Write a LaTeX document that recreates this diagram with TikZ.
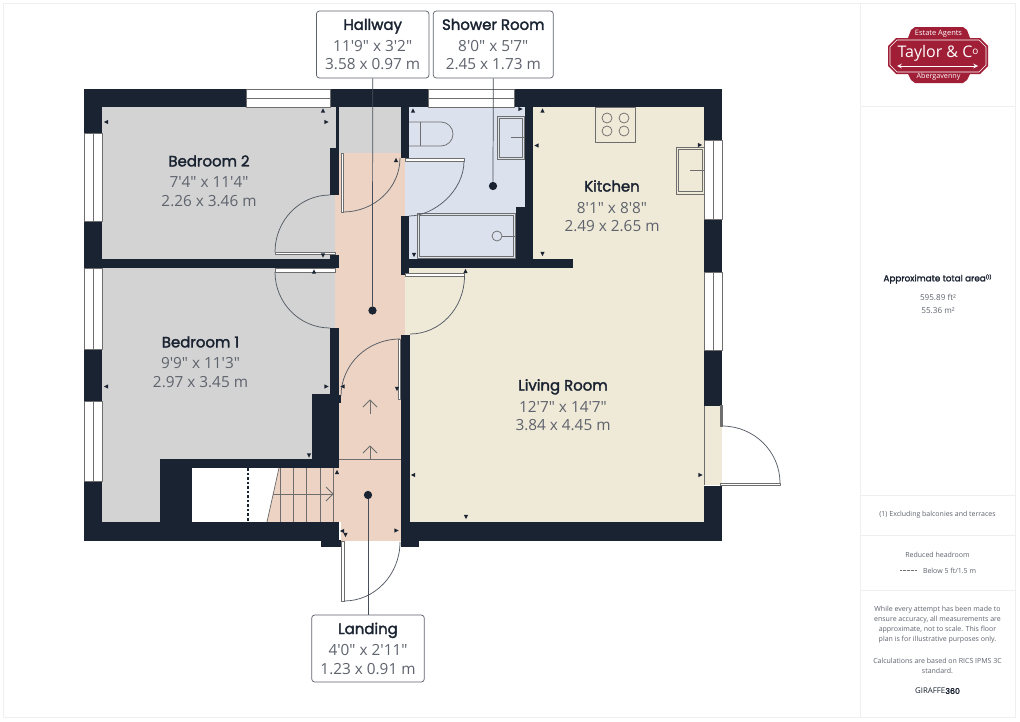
\documentclass[tikz,border=0pt]{standalone}
\usepackage{fontspec}
\usetikzlibrary{positioning}
\newfontfamily\titlefont[FakeBold=2]{Poppins}
\newfontfamily\dimfont{Open Sans}
\newfontfamily\noticefont{Open Sans}
\definecolor{wallcol}{HTML}{1A2331}
\definecolor{greycol}{HTML}{D3D3D3}
\definecolor{peachcol}{HTML}{ECD3C3}
\definecolor{bluecol}{HTML}{DCE1EE}
\definecolor{creamcol}{HTML}{EFE9D7}
\definecolor{dimcol}{HTML}{5E636D}
\definecolor{fixcol}{HTML}{6E6E6E}
\definecolor{framecol}{HTML}{EFEFEF}
\definecolor{logocol}{HTML}{A01F37}
\newcommand{\roomtext}[3]{{\titlefont\color{wallcol}\fontsize{11.2}{14.6}\selectfont #1}\\[2.25pt]{\dimfont #2}\\{\dimfont #3}}
\tikzset{
  wall/.style={fill=wallcol},
  winline/.style={draw=fixcol,line width=0.5pt},
  fixture/.style={draw=fixcol,line width=0.55pt},
  swing/.style={draw=wallcol!75,line width=0.55pt},
  roomlabel/.style={text=dimcol,align=center,inner sep=0pt,font=\fontsize{11.5}{13.9}\selectfont},
  callout/.style={roomlabel,draw=dimcol,fill=white,rounded corners=2.2pt,line width=0.55pt,minimum height=50.2pt},
  spot/.style={circle,fill=wallcol,inner sep=0pt,minimum size=6.2pt},
  leader/.style={draw=wallcol!80,line width=0.55pt},
  notice/.style={text=dimcol,align=center,inner sep=0pt,font=\noticefont\fontsize{5.25}{7.5}\selectfont},
  logotext/.style={text=white,inner sep=0pt,font=\noticefont}
}
\begin{document}
\begin{tikzpicture}[line cap=butt,line join=round,x=0.75pt,y=-0.75pt]
\useasboundingbox (0,0) rectangle (1020,721);
\fill[white] (0,0) rectangle (1020,721);
\draw[framecol,line width=0.75pt] (3.5,3.5) rectangle (1015.5,717);
\draw[framecol,line width=0.75pt] (860.5,3.5)-- (860.5,717);
\foreach \y in {106.5,495.5,535.5,590.5}
  \draw[framecol,line width=0.75pt] (860.5,\y)-- (1015.5,\y);
\fill[greycol] (102,107) rectangle (336,259);
\fill[greycol] (339,107) rectangle (401,153);
\fill[greycol] (102,268)-- (335,268)-- (335,328)-- (330,328)-- (330,394)-- (312,394)-- (312,459)-- (160,459)-- (160,522)-- (102,522)-- cycle;
\fill[peachcol] (335,195) rectangle (339,328);
\fill[peachcol] (339,153) rectangle (405,335);
\fill[peachcol] (339,335) rectangle (401,522);
\fill[peachcol] (341,522) rectangle (401,541);
\fill[peachcol] (279,468)-- (267,522)-- (339,522)-- (339,468)-- cycle;
\draw[fixture] (279,468)-- (267,522);
\fill[bluecol] (409,107)-- (525,107)-- (525,207)-- (516,207)-- (516,259)-- (409,259)-- (409,216)-- (405,216)-- (405,158)-- (409,158)-- cycle;
\fill[creamcol] (533,107)-- (704,107)-- (704,522)-- (410,522)-- (410,335)-- (405,335)-- (405,275)-- (409,275)-- (409,268)-- (533,268)-- cycle;
\fill[creamcol] (704,405) rectangle (722,485);
\draw[fixture] (704,405)-- (704,485);
\foreach \x in {280,293,306,320,333}
  \draw[fixture] (\x,468)-- (\x,522);
\draw[fixture] (273,494)-- (333,494);
\draw[fixture] (326,487)-- (333,494)-- (326,501);
\draw[fixture] (339,459)-- (401,459);
\draw[fixture] (370,459)-- (370,446);
\draw[fixture] (363,453)-- (370,446)-- (377,453);
\draw[fixture] (370,414)-- (370,400);
\draw[fixture] (363,407)-- (370,400)-- (377,407);
\draw[wallcol,line width=0.9pt,dash pattern=on 2pt off 1.4pt] (248,468)-- (248,522);
\draw[fixture] (409,122)-- (441,122) .. controls (447.6,122) and (453,127.4) .. (453,134) .. controls (453,140.6) and (447.6,146) .. (441,146)-- (409,146);
\draw[fixture] (420,122)-- (420,146);
\draw[fixture] (497,116) rectangle (524,159.5);
\draw[fixture] (499,118) rectangle (522,157.5);
\draw[fixture] (511,137)-- (524,137);
\draw[fixture] (417,213) rectangle (515,258);
\draw[fixture] (419,215) rectangle (513,256);
\draw[fixture] (497,236) circle (5);
\draw[fixture] (502,236)-- (515,236);
\draw[fixture] (595,107) rectangle (635,142);
\foreach \x/\y in {607/118,624/118,607/131,624/131}
  \draw[fixture] (\x,\y) circle (5);
\draw[fixture] (676,147) rectangle (704,194);
\draw[fixture] (678,149) rectangle (702,191);
\draw[fixture] (690,170)-- (704,170);
\fill[wall] (84,89) rectangle (246,107);
\fill[wall] (330,89) rectangle (428,107);
\fill[wall] (514,89) rectangle (722,107);
\fill[wall] (84,107) rectangle (102,133);
\fill[wall] (84,221) rectangle (102,268);
\fill[wall] (84,349) rectangle (102,401);
\fill[wall] (84,481) rectangle (102,540.5);
\fill[wall] (84,522) rectangle (339,540.5);
\fill[wall] (321,540) rectangle (341,546.5);
\fill[wall] (401,522) rectangle (722,540.5);
\fill[wall] (401,540) rectangle (419,546.5);
\fill[wall] (704,107) rectangle (722,140);
\fill[wall] (704,219) rectangle (722,272.5);
\fill[wall] (704,350) rectangle (722,405.5);
\fill[wall] (704,485.5) rectangle (722,540.5);
\fill[wall] (102,259) rectangle (339,268);
\fill[wall] (330,255) rectangle (339,268);
\fill[wall] (336,107) rectangle (339,148);
\fill[wall] (330,148) rectangle (339,195);
\fill[wall] (330,328) rectangle (339,395);
\fill[wall] (339,395) rectangle (341,403);
\fill[wall] (312,394) rectangle (339,468);
\fill[wall] (160,459) rectangle (339,468);
\fill[wall] (160,459) rectangle (192,522);
\fill[wall] (401,107) rectangle (409,158);
\fill[wall] (401,216) rectangle (409,275);
\fill[wall] (401,259) rectangle (573,268);
\fill[wall] (525,107) rectangle (533,268);
\fill[wall] (516,207) rectangle (533,262);
\fill[wall] (401,335) rectangle (410,540);
\foreach \a/\b in {133/221,268/349,401/481} {
  \draw[winline] (84,\a) rectangle (102,\b);
  \draw[winline] (93.5,\a)-- (93.5,\b);
}
\foreach \a/\b in {140/219,272.5/350} {
  \draw[winline] (704,\a) rectangle (722,\b);
  \draw[winline] (713,\a)-- (713,\b);
}
\foreach \a/\b in {246/330,428/514} {
  \draw[winline] (\a,89) rectangle (\b,107);
  \draw[winline] (\a,98)-- (\b,98);
}
\draw[fixture,fill=white] (275,252) rectangle (335,254.5);
\draw[swing] (330,195) .. controls (299.6,195) and (275,220.5) .. (275,252);
\draw[fixture,fill=white] (275,268) rectangle (335,272);
\draw[swing] (275,272) .. controls (275,302.9) and (299.6,328) .. (330,328);
\draw[fixture,fill=white] (341,153) rectangle (343.5,212);
\draw[swing] (343,212) .. controls (374.5,212) and (400,187.8) .. (400,158);
\draw[fixture,fill=white] (405,158) rectangle (464,161);
\draw[swing] (464,161) .. controls (464,191.4) and (433.6,216) .. (409,216);
\draw[fixture,fill=white] (405,273) rectangle (464,276);
\draw[swing] (464.5,276) .. controls (464.5,308) and (440.1,334) .. (410,334);
\draw[fixture,fill=white] (398,339) rectangle (400.7,399);
\draw[swing] (400,339) .. controls (367.4,339) and (341,364.5) .. (341,396);
\draw[fixture,fill=white] (341,541) rectangle (344,601);
\draw[swing] (344,601) .. controls (375,601) and (400,574.4) .. (400,542);
\draw[fixture,fill=fixcol] (720,405.5) rectangle (722,426);
\draw[swing] (722,426) .. controls (754,426) and (780,451.5) .. (780,483);
\draw[fixture,fill=white] (720,483) rectangle (780,485.5);
\foreach \x/\y/\a in {106/122/180,326.5/122/0,323/110.5/90,323/255.5/270,314/271.5/90,396/160/90,413/110.5/90,414/255/270,106/386.5/180,326.5/386.5/0,342.5/386.5/180,397/389/270,309/455.5/270,337/472/90,413/475/180,342/531/180,345.5/535/270,396.5/530.5/0,520.5/109/0,542.5/110.5/90,536.5/145.5/180,700/145/0,542.5/254/270,465.5/271/90,700.5/475/0,466/517/270}
  \fill[wallcol,shift={(\x,\y)},rotate=\a] (-2.2,-2.2)-- (2.2,0)-- (-2.2,2.2)-- cycle;
\node[roomlabel] (bedroomtwo) at (209,181) {\roomtext{Bedroom 2}{7'4" x 11'4"}{2.26 x 3.46 m}};
\node[roomlabel] (bedroomone) at (200.5,362) {\roomtext{Bedroom 1}{9'9" x 11'3"}{2.97 x 3.45 m}};
\node[roomlabel] (kitchen) at (612,206) {\roomtext{Kitchen}{8'1" x 8'8"}{2.49 x 2.65 m}};
\node[roomlabel] (livingroom) at (563,405) {\roomtext{Living Room}{12'7" x 14'7"}{3.84 x 4.45 m}};
\node[spot] (hallwayspot) at (372.5,310.5) {};
\node[spot] (showerspot) at (493,186) {};
\node[spot] (landingspot) at (368,495) {};
\node[callout,minimum width=84.4pt] (hallway) at (372.7,44.5) {\roomtext{Hallway}{11'9" x 3'2"}{3.58 x 0.97 m}};
\node[callout,minimum width=90pt] (shower) at (493.3,44.5) {\roomtext{Shower Room}{8'0" x 5'7"}{2.45 x 1.73 m}};
\node[callout,minimum width=84.4pt] (landing) at (368,648.5) {\roomtext{Landing}{4'0" x 2'11"}{1.23 x 0.91 m}};
\draw[leader] (hallway.south)-- (hallwayspot);
\draw[leader] (shower.south)-- (showerspot);
\draw[leader] (landing.north)-- (landingspot);
\fill[logocol] (908,38)-- (911,30)-- (915,27)-- (963,27)-- (967,30)-- (970,38)-- (980,38)-- (988,46)-- (988,66)-- (980,74)-- (970,74)-- (967,80)-- (963,83)-- (915,83)-- (911,80)-- (908,74)-- (896,74)-- (888,66)-- (888,46)-- (896,38)-- cycle;
\draw[white,line width=0.4pt] (890,47)-- (897,40)-- (979,40)-- (986,47)-- (986,65)-- (979,72)-- (897,72)-- (890,65)-- cycle;
\draw[white,line width=0.6pt,<->,>=stealth] (897,66)-- (978,66);
\node[logotext,font=\noticefont\fontsize{5.6}{6}\selectfont] (logotop) at (938.5,33.5) {Estate Agents};
\node[logotext,font=\noticefont\fontsize{12}{14}\selectfont] (logoname) at (938,53.5) {Taylor \& C\raisebox{2pt}{\fontsize{7.5}{8}\selectfont o}};
\node[logotext,font=\noticefont\fontsize{5.4}{6}\selectfont] (logobottom) at (938.5,77) {Abergavenny};
\node[notice] (areatitle) at (937.5,279) {{\titlefont\color{wallcol}\fontsize{6.6}{7}\selectfont Approximate total area\raisebox{2pt}{\fontsize{3.5}{4}\selectfont (1)}}};
\node[notice,font=\noticefont\fontsize{6.1}{7.5}\selectfont] (areaft) at (938,297) {595.89 ft²};
\node[notice,font=\noticefont\fontsize{6.1}{7.5}\selectfont] (aream) at (938,311) {55.36 m²};
\node[notice] (excluding) at (937.5,515) {(1) Excluding balconies and terraces};
\node[notice] (headroom) at (937.5,555) {Reduced headroom};
\node[notice] (below) at (949.5,570.5) {Below 5 ft/1.5 m};
\draw[fixcol,line width=0.35pt,dash pattern=on 0.5pt off 0.5pt] (900,570.5)-- (917,570.5);
\node[notice] (disclaimer) at (937.5,625) {While every attempt has been made to\\ensure accuracy, all measurements are\\approximate, not to scale. This floor\\plan is for illustrative purposes only.};
\node[notice] (rics) at (937.5,666) {Calculations are based on RICS IPMS 3C\\standard.};
\node[notice,text=wallcol,font=\noticefont\fontsize{5.9}{7.5}\selectfont] (giraffe) at (937.5,691) {GIRAFFE{\titlefont 360}};
\end{tikzpicture}
\end{document}
